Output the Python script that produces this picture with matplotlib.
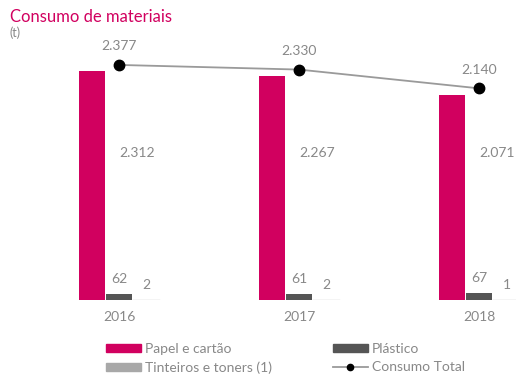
import matplotlib
matplotlib.use("Agg")
import matplotlib.pyplot as plt
from matplotlib.lines import Line2D
from matplotlib.patches import Patch

plt.rcParams["font.family"] = ["Lato", "DejaVu Sans"]

years = ["2016", "2017", "2018"]
papel = [2312, 2267, 2071]
plastico = [62, 61, 67]
tinteiros = [2, 2, 1]
total = [2377, 2330, 2140]

magenta = "#d1005f"
dark_grey = "#555555"
light_grey = "#a8a8a8"
text_grey = "#888888"

W, H = 516, 379
fig = plt.figure(figsize=(W / 100, H / 100), dpi=100)
ax = fig.add_axes([60 / W, 79 / H, 456 / W, 260 / H])

x = list(range(len(years)))
w = 0.145
off = 0.152

ax.bar([i - off for i in x], papel, width=w, color=magenta)
ax.bar(x, plastico, width=w, color=dark_grey)
ax.bar([i + off for i in x], tinteiros, width=w, color=light_grey)
# thin baseline under the tiny toner bars
for i in x:
    ax.plot([i + off - w / 2, i + off + w / 2], [0, 0], color="#c8c8c8", lw=1)

ax.plot(x, total, color="#9a9a9a", lw=1.3, zorder=3)
ax.plot(x, total, "o", color="black", ms=7.5, zorder=4)

# labels (paper values sit at a common height beside the bars)
label_h = 0.645 * max(papel)
for i in x:
    ax.text(i, label_h, f"{papel[i]:,}".replace(",", "."), ha="left",
            va="center", color=text_grey, fontsize=10)
    ax.text(i, plastico[i] + 90, str(plastico[i]), ha="center", va="bottom",
            color=text_grey, fontsize=10)
    ax.text(i + off, tinteiros[i] + 90, str(tinteiros[i]), ha="center",
            va="bottom", color=text_grey, fontsize=10)
    ax.text(i, total[i] + 130, f"{total[i]:,}".replace(",", "."), ha="center",
            va="bottom", color=text_grey, fontsize=10)
    ax.text(i, -115, years[i], ha="center", va="top", color=text_grey,
            fontsize=10)

ax.set_xlim(-0.328, 2.205)
ax.set_ylim(0, 2629)
ax.axis("off")

fig.text(10 / W, 1 - 17 / H, "Consumo de materiais", color=magenta,
         fontsize=12, va="center", ha="left")
fig.text(10 / W, 1 - 33 / H, "(t)", color=text_grey, fontsize=9,
         va="center", ha="left")

legend_kw = dict(loc="upper left", frameon=False, fontsize=10,
                 handlelength=2.5, handleheight=0.55, handletextpad=0.3,
                 labelspacing=0.45, borderpad=0, borderaxespad=0)

leg1 = fig.legend([Patch(color=magenta), Patch(color=light_grey)],
                  ["Papel e cartão", "Tinteiros e toners (1)"],
                  bbox_to_anchor=(106 / W, 1 - 343 / H), **legend_kw)
leg2 = fig.legend([Patch(color=dark_grey),
                   Line2D([0], [0], color="#9a9a9a", lw=1.3, marker="o",
                          markerfacecolor="black", markeredgecolor="black",
                          ms=4.5)],
                  ["Plástico", "Consumo Total"],
                  bbox_to_anchor=(333 / W, 1 - 343 / H), **legend_kw)
for leg in (leg1, leg2):
    for t in leg.get_texts():
        t.set_color(text_grey)

fig.savefig("out.png", dpi=100)
